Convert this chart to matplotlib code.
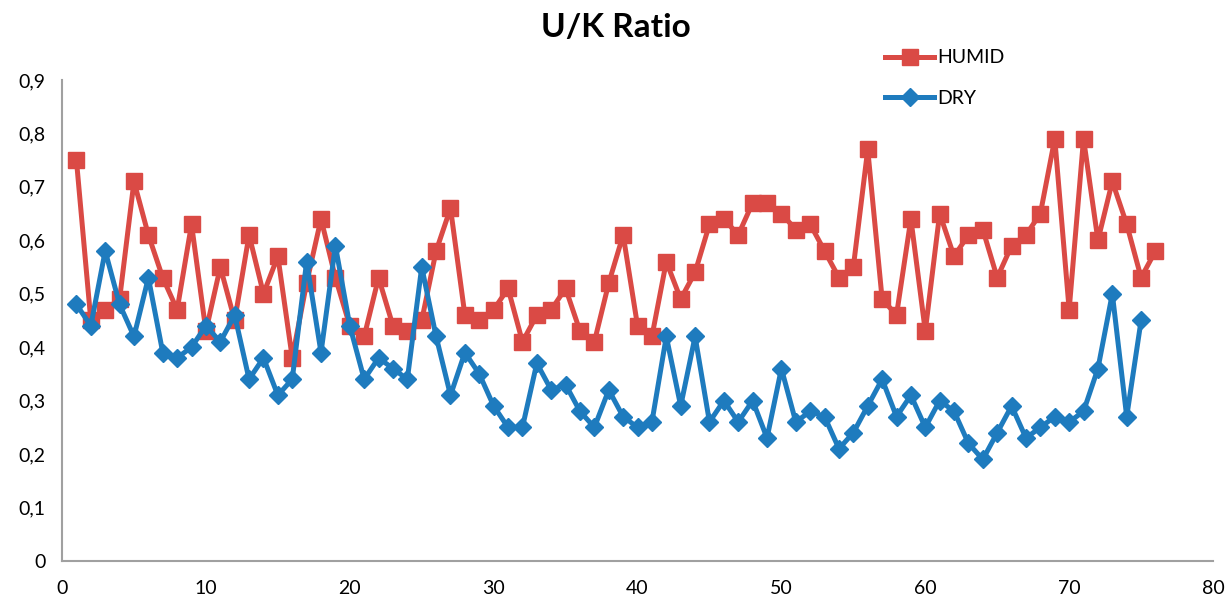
import matplotlib
matplotlib.use('Agg')
from matplotlib import pyplot as plt
from matplotlib.ticker import FuncFormatter

plt.rcParams['font.family'] = ['Lato', 'DejaVu Sans']

humid_x = list(range(1, 77))
humid = [0.75, 0.45, 0.47, 0.49, 0.71, 0.61, 0.53, 0.47, 0.63, 0.43,
         0.55, 0.45, 0.61, 0.50, 0.57, 0.38, 0.52, 0.64, 0.53, 0.44,
         0.42, 0.53, 0.44, 0.43, 0.45, 0.58, 0.66, 0.46, 0.45, 0.47,
         0.51, 0.41, 0.46, 0.47, 0.51, 0.43, 0.41, 0.52, 0.61, 0.44,
         0.42, 0.56, 0.49, 0.54, 0.63, 0.64, 0.61, 0.67, 0.67, 0.65,
         0.62, 0.63, 0.58, 0.53, 0.55, 0.77, 0.49, 0.46, 0.64, 0.43,
         0.65, 0.57, 0.61, 0.62, 0.53, 0.59, 0.61, 0.65, 0.79, 0.47,
         0.79, 0.60, 0.71, 0.63, 0.53, 0.58]

dry_x = list(range(1, 76))
dry = [0.48, 0.44, 0.58, 0.48, 0.42, 0.53, 0.39, 0.38, 0.40, 0.44,
       0.41, 0.46, 0.34, 0.38, 0.31, 0.34, 0.56, 0.39, 0.59, 0.44,
       0.34, 0.38, 0.36, 0.34, 0.55, 0.42, 0.31, 0.39, 0.35, 0.29,
       0.25, 0.25, 0.37, 0.32, 0.33, 0.28, 0.25, 0.32, 0.27, 0.25,
       0.26, 0.42, 0.29, 0.42, 0.26, 0.30, 0.26, 0.30, 0.23, 0.36,
       0.26, 0.28, 0.27, 0.21, 0.24, 0.29, 0.34, 0.27, 0.31, 0.25,
       0.30, 0.28, 0.22, 0.19, 0.24, 0.29, 0.23, 0.25, 0.27, 0.26,
       0.28, 0.36, 0.50, 0.27, 0.45]

red = '#DA4A45'
blue = '#1E7BBE'

fig = plt.figure(figsize=(12.31, 6.01), dpi=100)
ax = fig.add_axes([0.0504, 0.0666, 0.935, 0.8004])

ax.plot(humid_x, humid, color=red, lw=3.6, marker='s', markersize=11,
        label='HUMID')
ax.plot(dry_x, dry, color=blue, lw=3.6, marker='D', markersize=9,
        label='DRY')

ax.set_xlim(0, 80)
ax.set_ylim(0, 0.9)
ax.set_xticks(range(0, 81, 10))
ax.set_yticks([i / 10 for i in range(10)])
ax.yaxis.set_major_formatter(FuncFormatter(
    lambda v, p: '0' if v == 0 else ('%.1f' % v).replace('.', ',')))
ax.tick_params(length=0, labelsize=14, colors='black')
ax.tick_params(axis='y', pad=12)
ax.tick_params(axis='x', pad=14)

for s in ['top', 'right']:
    ax.spines[s].set_visible(False)
for s in ['left', 'bottom']:
    ax.spines[s].set_color('#A0A0A0')
    ax.spines[s].set_linewidth(1.5)

fig.text(0.5, 0.955, 'U/K Ratio', ha='center', va='center',
         fontsize=24, fontweight='bold')

ax.legend(loc='upper left', bbox_to_anchor=(0.7, 1.1), frameon=False,
          fontsize=14, handlelength=2.5, labelspacing=1.2, handletextpad=0.2)

fig.savefig('out.png', dpi=100)
